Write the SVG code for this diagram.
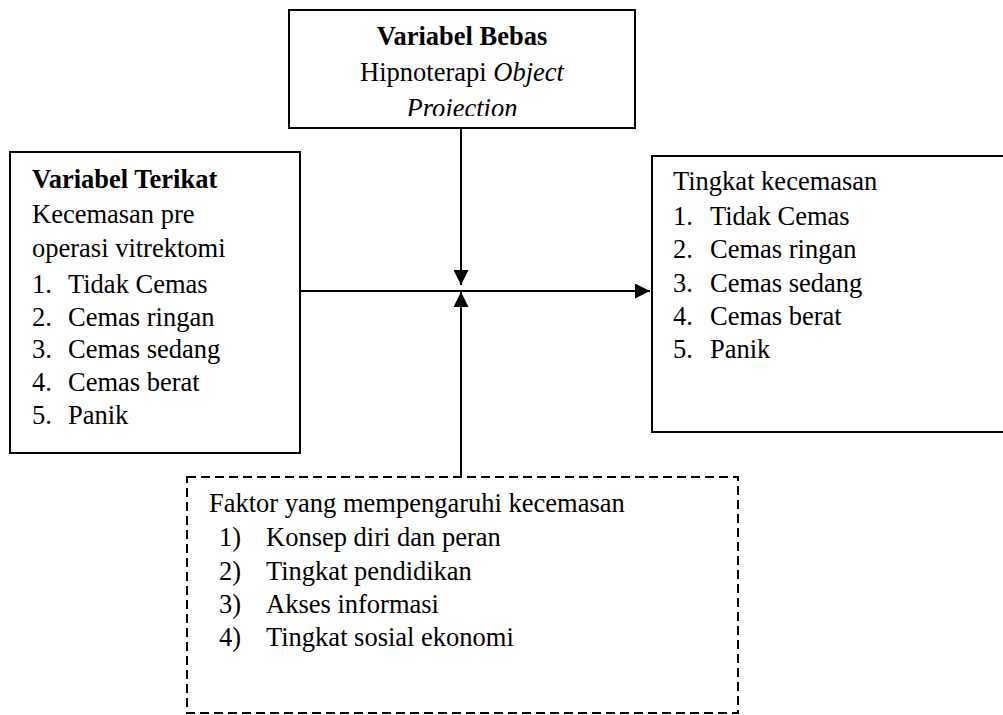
<svg xmlns="http://www.w3.org/2000/svg" width="1003" height="715" viewBox="0 0 1003 715">
<style>
.box{fill:#fff;stroke:#000;stroke-width:2}
.dash{fill:#fff;stroke:#000;stroke-width:2;stroke-dasharray:9 5}
.t{font-family:"Liberation Serif","Times New Roman",serif;font-size:26.5px;fill:#000}
.b{font-weight:bold}
.i{font-style:italic}
.c{text-anchor:middle}
.ln{stroke:#000;stroke-width:2;fill:none}
</style>
<defs>
<marker id="ah" markerUnits="userSpaceOnUse" markerWidth="15" markerHeight="15" refX="15" refY="7.5" orient="auto">
<path d="M0,0 L15,7.5 L0,15 z" fill="#000"/>
</marker>
<clipPath id="clipTop"><rect x="289" y="10" width="346" height="106"/></clipPath>
</defs>
<rect width="1003" height="715" fill="#fff"/>
<g id="connectors">
<line class="ln" x1="461" y1="128" x2="461" y2="285" marker-end="url(#ah)"/>
<line class="ln" x1="461" y1="477" x2="461" y2="292" marker-end="url(#ah)"/>
<line class="ln" x1="300" y1="291" x2="650" y2="291" marker-end="url(#ah)"/>
</g>
<g id="node-bebas">
<rect class="box" x="289" y="10" width="346" height="118"/>
<g clip-path="url(#clipTop)">
<text class="t b c" x="462" y="45">Variabel Bebas</text>
<text class="t c" x="462" y="81">Hipnoterapi <tspan class="i">Object</tspan></text>
<text class="t i c" x="462" y="117">Projection</text>
</g>
</g>
<g id="node-terikat">
<rect class="box" x="10" y="152" width="290" height="301"/>
<text class="t b" x="32" y="188">Variabel Terikat</text>
<text class="t" x="32" y="223">Kecemasan pre</text>
<text class="t" x="32" y="257">operasi vitrektomi</text>
<text class="t" x="32" y="293">1.</text><text class="t" x="68" y="293">Tidak Cemas</text>
<text class="t" x="32" y="326">2.</text><text class="t" x="68" y="326">Cemas ringan</text>
<text class="t" x="32" y="358">3.</text><text class="t" x="68" y="358">Cemas sedang</text>
<text class="t" x="32" y="391">4.</text><text class="t" x="68" y="391">Cemas berat</text>
<text class="t" x="32" y="424">5.</text><text class="t" x="68" y="424">Panik</text>
</g>
<g id="node-tingkat">
<rect class="box" x="652" y="156" width="360" height="276"/>
<text class="t" x="673" y="190">Tingkat kecemasan</text>
<text class="t" x="673" y="225">1.</text><text class="t" x="710" y="225">Tidak Cemas</text>
<text class="t" x="673" y="258">2.</text><text class="t" x="710" y="258">Cemas ringan</text>
<text class="t" x="673" y="292">3.</text><text class="t" x="710" y="292">Cemas sedang</text>
<text class="t" x="673" y="325">4.</text><text class="t" x="710" y="325">Cemas berat</text>
<text class="t" x="673" y="358">5.</text><text class="t" x="710" y="358">Panik</text>
</g>
<g id="node-faktor">
<rect class="dash" x="187" y="477" width="551" height="236"/>
<text class="t" x="209" y="512">Faktor yang mempengaruhi kecemasan</text>
<text class="t" x="219" y="546">1)</text><text class="t" x="266" y="546">Konsep diri dan peran</text>
<text class="t" x="219" y="580">2)</text><text class="t" x="266" y="580">Tingkat pendidikan</text>
<text class="t" x="219" y="613">3)</text><text class="t" x="266" y="613">Akses informasi</text>
<text class="t" x="219" y="646">4)</text><text class="t" x="266" y="646">Tingkat sosial ekonomi</text>
</g>
</svg>
